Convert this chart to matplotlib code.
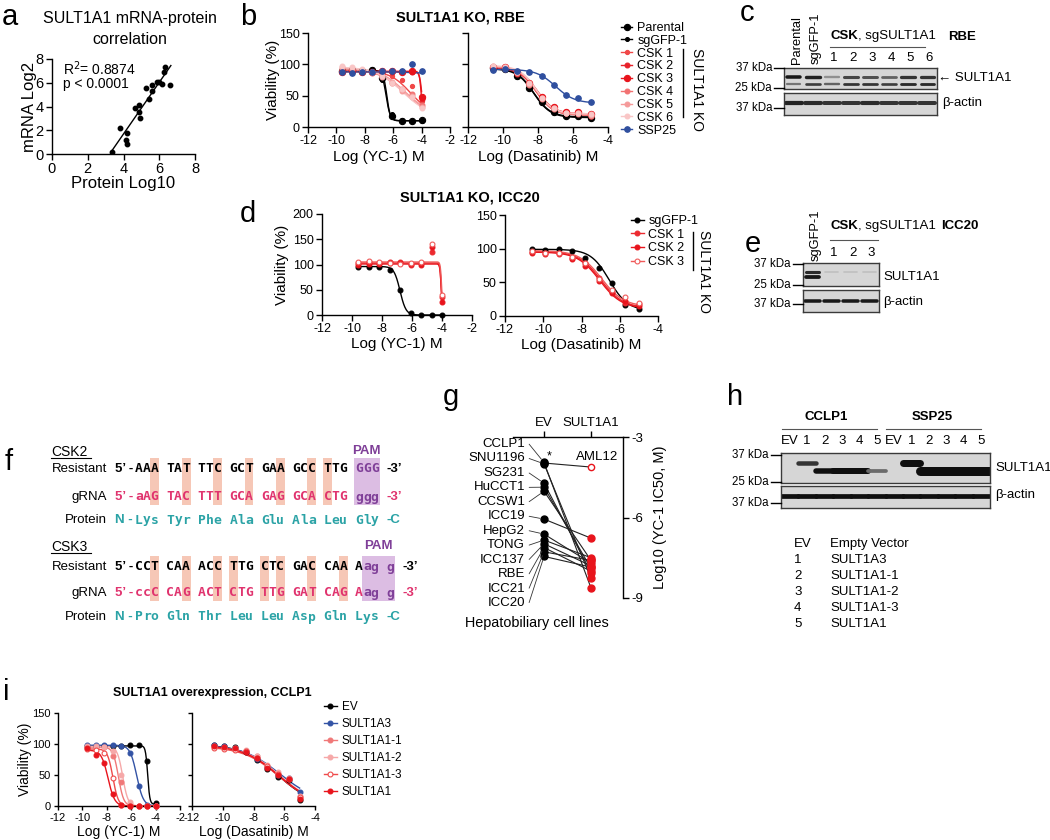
import numpy as np
import matplotlib.pyplot as plt
from matplotlib.lines import Line2D
from matplotlib.patches import Rectangle

plt.rcParams['font.family'] = ['Liberation Sans', 'DejaVu Sans']
plt.rcParams['axes.unicode_minus'] = False
plt.rcParams['axes.linewidth'] = 1.0

W, H = 1050, 840

# ---------------- data ----------------
# a: mRNA vs protein
a_protein = [3.36, 3.83, 4.13, 4.17, 4.22, 4.62, 4.88, 4.88, 4.92, 5.25, 5.42, 5.6, 5.62, 5.89, 6.0, 6.13, 6.26, 6.32, 6.6]
a_mrna = [0.17, 2.19, 1.2, 0.81, 1.8, 3.9, 4.1, 3.5, 3.06, 5.6, 4.63, 5.3, 5.8, 6.1, 6.1, 5.87, 6.88, 7.3, 5.8]

# dose series, log M
yc1_doses = [-9.6, -8.9, -8.2, -7.5, -6.8, -6.1, -5.4, -4.7, -4.0]
das_doses = [-10.6, -9.9, -9.2, -8.5, -7.8, -7.1, -6.4, -5.7, -5.0]

# b: SULT1A1 KO, RBE
b_names = ['Parental', 'sgGFP-1', 'CSK 1', 'CSK 2', 'CSK 3', 'CSK 4', 'CSK 5', 'CSK 6', 'SSP25']
b_yc1 = [[90, 91, 89, 91, 78, 18, 10, 10, 11],
         [88, 89, 90, 92, 75, 20, 11, 10, 10],
         [92, 90, 90, 88, 86, 82, 75, 65, 42],
         [90, 89, 88, 88, 89, 88, 88, 88, 45],
         [88, 89, 87, 88, 90, 89, 88, 90, 48],
         [93, 92, 90, 86, 82, 70, 60, 52, 35],
         [95, 93, 90, 87, 80, 72, 58, 50, 32],
         [97, 95, 92, 88, 82, 70, 60, 48, 30],
         [87, 86, 88, 88, 89, 90, 90, 101, 90]]
# fitted curve parameters: top, bottom, logIC50, hill
b_yc1_fit = [(90, 10, -6.45, 3.5), (90, 10, -6.5, 3.0), (90, 20, -4.8, 0.6),
             (88, 0, -3.95, 5), (89, 0, -4.0, 6), (92, 20, -5.3, 0.5),
             (94, 20, -5.2, 0.5), (96, 15, -5.3, 0.45), (88, 86, -5.0, 1)]
b_das = [[94, 93, 82, 63, 40, 24, 18, 17, 15],
         [93, 92, 80, 62, 39, 23, 17, 16, 14],
         [95, 94, 86, 69, 47, 31, 23, 23, 19],
         [94, 93, 85, 68, 46, 30, 22, 22, 18],
         [95, 95, 87, 70, 48, 32, 24, 24, 20],
         [96, 94, 86, 67, 45, 29, 22, 21, 18],
         [97, 95, 87, 68, 46, 30, 22, 22, 19],
         [98, 96, 88, 70, 47, 31, 23, 23, 20],
         [91, 92, 90, 88, 82, 67, 51, 46, 40]]
b_das_fit = [(94, 16, -8.25, 0.9), (93, 15, -8.25, 0.9), (95, 20, -8.1, 0.9),
             (94, 19, -8.1, 0.9), (95, 21, -8.05, 0.9), (96, 19, -8.1, 0.9),
             (97, 20, -8.1, 0.9), (98, 21, -8.1, 0.9), (92, 38, -7.0, 0.8)]

# d: SULT1A1 KO, ICC20
d_names = ['sgGFP-1', 'CSK 1', 'CSK 2', 'CSK 3']
d_yc1 = [[96, 96, 96, 89, 50, 3, 0, 0, 0],
         [102, 104, 103, 103, 104, 100, 102, 125, 35],
         [100, 101, 101, 104, 103, 101, 100, 135, 25],
         [105, 106, 104, 103, 101, 103, 104, 140, 40]]
d_yc1_fit = [(96, 0, -6.8, 2.2), (103, 0, -4.05, 10), (101, 0, -4.05, 10), (105, 0, -4.02, 10)]
d_das = [[99, 98, 99, 96, 86, 72, 49, 16, 11],
         [95, 93, 92, 86, 78, 57, 36, 20, 18],
         [94, 92, 93, 85, 75, 52, 34, 22, 15],
         [96, 94, 94, 88, 79, 55, 38, 28, 20]]
d_das_fit = [(99, 8, -6.55, 0.9), (96, 12, -7.0, 0.75), (95, 11, -7.05, 0.75), (97, 14, -6.95, 0.75)]

# i: SULT1A1 overexpression, CCLP1
i_names = ['EV', 'SULT1A3', 'SULT1A1-1', 'SULT1A1-2', 'SULT1A1-3', 'SULT1A1']
i_yc1 = [[97, 97, 97, 96, 97, 98, 98, 72, 5],
         [98, 98, 98, 98, 96, 85, 32, 1, 0],
         [95, 95, 95, 80, 38, 3, 0, 0, 0],
         [96, 96, 95, 88, 50, 6, 0, 0, 0],
         [92, 90, 85, 45, 2, 0, 0, 0, 0],
         [93, 82, 70, 20, 1, 0, 0, 0, 0]]
i_yc1_fit = [(97, 3, -4.65, 5), (98, 0, -5.55, 1.6), (95, 0, -7.05, 2.0),
             (96, 0, -6.7, 2.0), (92, 0, -7.5, 2.0), (90, 0, -7.9, 1.6)]
i_das = [[99, 97, 95, 87, 75, 60, 46, 42, 10],
         [98, 96, 93, 88, 76, 63, 50, 45, 22],
         [96, 95, 92, 89, 80, 65, 52, 44, 15],
         [95, 94, 93, 90, 81, 66, 55, 45, 16],
         [93, 92, 91, 88, 78, 64, 52, 43, 14],
         [97, 95, 93, 87, 77, 62, 50, 44, 12]]
i_das_fit = [(99, 0, -6.4, 0.38), (99, 5, -6.3, 0.36), (97, 0, -6.3, 0.37),
             (97, 0, -6.25, 0.38), (96, 0, -6.35, 0.37), (98, 0, -6.35, 0.37)]

# g: log10 YC-1 IC50, EV vs SULT1A1
g_cells = ['CCLP1', 'SNU1196', 'SG231', 'HuCCT1', 'CCSW1', 'ICC19', 'HepG2',
           'TONG', 'ICC137', 'RBE', 'ICC21', 'ICC20', 'AML12']
g_ev = [-3.95, -4.0, -4.72, -4.87, -5.02, -6.06, -6.62, -6.84, -6.98, -7.12, -7.28, -7.45, -3.97]
g_sult = [-8.63, -8.27, -8.05, -7.9, -7.6, -6.77, -7.7, -7.5, -7.8, -8.0, -7.6, -7.85, -4.12]

# western blots (band amount, 0..~2)
c_lanes = ['Parental', 'sgGFP-1', '1', '2', '3', '4', '5', '6']
c_sult_upper = [0.95, 0.9, 0.3, 0.7, 0.65, 0.55, 0.8, 0.8]
c_sult_lower = [0.45, 0.75, 0.55, 0.8, 0.8, 0.75, 0.85, 0.85]
c_actin = [0.9, 0.85, 0.8, 0.8, 0.85, 0.8, 0.8, 0.8]

e_lanes = ['sgGFP-1', '1', '2', '3']
e_sult_upper = [0.85, 0.03, 0.03, 0.03]
e_sult_lower = [0.95, 0.0, 0.0, 0.0]
e_actin = [0.95, 0.95, 0.95, 0.95]

h_lanes = ['EV', '1', '2', '3', '4', '5', 'EV', '1', '2', '3', '4', '5']
h_sult1a3 = [0, 0.8, 0, 0, 0, 0, 0, 1.4, 0, 0, 0, 0]
h_sult1a1 = [0, 0, 1.1, 1.2, 1.2, 0.5, 0, 0, 1.8, 1.8, 1.8, 1.8]
h_actin = [1.0] * 12
h_key = ['EV', '1', '2', '3', '4', '5']
h_constructs = ['Empty Vector', 'SULT1A3', 'SULT1A1-1', 'SULT1A1-2', 'SULT1A1-3', 'SULT1A1']

# f: sequences
csk2_res = 'AAA TAT TTC GCT GAA GCC TTG GGG'
csk2_grna = 'aAG TAC TTT GCA GAG GCA CTG ggg'
csk2_prot = 'Lys Tyr Phe Ala Glu Ala Leu Gly'
csk2_pam = (28, 31)
csk3_res = 'CCT CAA ACC TTG CTC GAC CAA Aag g'
csk3_grna = 'ccC CAG ACT CTG TTG GAT CAG Aag g'
csk3_prot = 'Pro Gln Thr Leu Leu Asp Gln Lys'
csk3_pam = (29, 33)

# ---------------- helpers ----------------
fig = plt.figure(figsize=(W / 100, H / 100), dpi=100)
ov = fig.add_axes([0, 0, 1, 1], zorder=10)
ov.set_xlim(0, W)
ov.set_ylim(H, 0)
ov.axis('off')


def add_ax(x0, y0, x1, y1):
    return fig.add_axes([x0 / W, 1 - y1 / H, (x1 - x0) / W, (y1 - y0) / H])


def T(x, y, s, **kw):
    kw.setdefault('ha', 'center')
    kw.setdefault('va', 'center')
    kw.setdefault('fontsize', 9.5)
    ov.text(x, y, s, **kw)


def L(xs, ys, **kw):
    kw.setdefault('color', 'k')
    kw.setdefault('lw', 0.8)
    ov.plot(xs, ys, **kw)


def logistic(x, top, bottom, logic50, hill):
    return bottom + (top - bottom) / (1 + 10 ** ((x - logic50) * hill))


def dr_axes(rect, xlim, xticks, ylim, yticks, ylabels=True, fs=9, tl=4):
    ax = add_ax(*rect)
    ax.spines[['top', 'right']].set_visible(False)
    ax.set_xlim(xlim)
    ax.set_ylim(ylim)
    ax.set_xticks(xticks)
    ax.set_yticks(yticks)
    if not ylabels:
        ax.set_yticklabels([])
    ax.tick_params(direction='out', length=tl, width=1, labelsize=fs, pad=2)
    return ax


def dr_plot(ax, doses, vals, fits, colors, sizes, faces):
    xs = np.linspace(doses[0], doses[-1], 200)
    for v, f, c, ms, fc in zip(vals, fits, colors, sizes, faces):
        ax.plot(xs, logistic(xs, *f), color=c, lw=1.0, zorder=2)
        ax.plot(doses, v, 'o', color=c, ms=ms, mfc=fc if fc else c, mew=0.8, zorder=3, clip_on=False)


def handles(colors, sizes, faces):
    return [Line2D([], [], color=c, lw=1, marker='o', ms=ms, mfc=fc if fc else c, mew=0.8)
            for c, ms, fc in zip(colors, sizes, faces)]


def blot(x0, y0, x1, y1, bands, half):
    ax = add_ax(x0, y0, x1, y1)
    n = len(bands[0][1])
    ax.set_xlim(0, n)
    ax.set_ylim(0, 1)
    ax.set_xticks([])
    ax.set_yticks([])
    ax.set_facecolor('#d6d6d6')
    for s in ax.spines.values():
        s.set_color('#3a3a3a')
    for ypos, vals, lw in bands:
        for k, v in enumerate(vals):
            if v <= 0:
                continue
            g = 0.78 - 0.72 * min(v, 1)
            ax.plot([k + 0.5 - half, k + 0.5 + half], [ypos, ypos], color=(g, g, g),
                    lw=lw * min(v, 2) if v > 1 else lw * (0.5 + 0.5 * v), solid_capstyle='round')
    return ax


def kda(x0, items):
    for y, s in items:
        T(x0 - 12, y, s, ha='right', fontsize=8.3)
        L([x0 - 10, x0], [y, y], lw=1)


# ---------------- a ----------------
T(2, 25, 'a', ha='left', va='baseline', fontsize=21)
T(130, 29, 'SULT1A1 mRNA-protein\ncorrelation', fontsize=11.5, linespacing=1.45)
ax = dr_axes((52, 59, 195, 154), (0, 8), [0, 2, 4, 6, 8], (0, 8), [0, 2, 4, 6, 8], fs=10.5)
ax.plot(a_protein, a_mrna, 'o', color='k', ms=3.2)
coef = np.polyfit(a_protein, a_mrna, 1)
xl = np.array([min(a_protein) - 0.05, max(a_protein) + 0.05])
ax.plot(xl, np.polyval(coef, xl), color='k', lw=1)
ax.text(0.6, 7.15, 'R$^2$= 0.8874', fontsize=10, va='center')
ax.text(0.6, 5.9, 'p < 0.0001', fontsize=10, va='center')
ax.set_xlabel('Protein Log10', fontsize=12)
ax.set_ylabel('mRNA Log2', fontsize=12)
ax.xaxis.set_label_coords(0.5, -0.23)
ax.yaxis.set_label_coords(-0.105, 0.5)

# ---------------- b ----------------
b_colors = ['#000000', '#000000', '#f04848', '#e8222a', '#e8141c', '#f27272', '#f59a9a', '#f9c6c6', '#2f4f9f']
b_sizes = [4.5, 2.8, 3, 3.5, 4.5, 3.5, 3.5, 3.5, 4]
b_faces = [None] * 9
T(240, 25, 'b', ha='left', va='baseline', fontsize=21)
T(460, 18, 'SULT1A1 KO, RBE', fontsize=10.5, fontweight='bold')
ax = dr_axes((308, 33, 450, 127), (-12, -2), range(-12, -1, 2), (0, 150), [0, 50, 100, 150])
dr_plot(ax, yc1_doses, b_yc1, b_yc1_fit, b_colors, b_sizes, b_faces)
ax.set_xlabel('Log (YC-1) M', fontsize=11)
ax.set_ylabel('Viability (%)', fontsize=11)
ax.xaxis.set_label_coords(0.5, -0.245)
ax.yaxis.set_label_coords(-0.2, 0.5)
ax = dr_axes((468, 33, 608, 127), (-12, -4), range(-12, -3, 2), (0, 150), [0, 50, 100, 150], ylabels=False)
dr_plot(ax, das_doses, b_das, b_das_fit, b_colors, b_sizes, b_faces)
ax.set_xlabel('Log (Dasatinib) M', fontsize=11)
ax.xaxis.set_label_coords(0.5, -0.245)
fig.legend(handles(b_colors, b_sizes, b_faces), b_names, loc='upper left',
           bbox_to_anchor=(621 / W, 1 - 22 / H), frameon=False, fontsize=9,
           handlelength=0.9, handletextpad=0.4, labelspacing=0.065, borderpad=0, borderaxespad=0)
L([683, 683], [49, 117], lw=1)
T(697, 90, 'SULT1A1 KO', rotation=270, fontsize=10)

# ---------------- c ----------------
T(740, 21, 'c', ha='left', va='baseline', fontsize=21)
blot(784, 68, 937, 89, [(0.55, c_sult_upper, 2.6), (0.22, c_sult_lower, 2.2)], 0.36)
blot(784, 93, 937, 115, [(0.55, c_actin, 3.2)], 0.42)
c_lx = [784 + (k + 0.5) * (937 - 784) / len(c_lanes) for k in range(len(c_lanes))]
for k, lab in enumerate(c_lanes):
    if k < 2:
        T(c_lx[k] + 3, 64, lab, rotation=90, va='bottom', fontsize=9.3)
    else:
        T(c_lx[k] + 2, 58, lab, fontsize=9.5)
T(858, 36, 'CSK', ha='right', fontweight='bold', fontsize=9.5)
T(858, 36, ', sgSULT1A1', ha='left', fontsize=9.5)
L([830, 925], [47, 47], lw=0.8, color='#555555')
T(962, 37, 'RBE', fontweight='bold', fontsize=9.5)
kda(784, [(68, '37 kDa'), (88, '25 kDa'), (108, '37 kDa')])
T(938, 78, '\u2190 SULT1A1', ha='left', fontsize=9.5)
T(942, 103, '\u03b2-actin', ha='left', fontsize=9.5)

# ---------------- d ----------------
d_colors = ['#000000', '#ec2a2f', '#e8141c', '#f05a5a']
d_sizes = [3.5, 3.5, 3.5, 3.5]
d_faces = [None, None, None, 'white']
T(240, 222, 'd', ha='left', va='baseline', fontsize=21)
T(470, 198, 'SULT1A1 KO, ICC20', fontsize=10.5, fontweight='bold')
ax = dr_axes((322, 214, 472, 315), (-12, -2), range(-12, -1, 2), (0, 200), [0, 50, 100, 150, 200])
dr_plot(ax, yc1_doses, d_yc1, d_yc1_fit, d_colors, d_sizes, d_faces)
ax.set_xlabel('Log (YC-1) M', fontsize=11)
ax.set_ylabel('Viability (%)', fontsize=11)
ax.xaxis.set_label_coords(0.5, -0.215)
ax.yaxis.set_label_coords(-0.22, 0.5)
ax = dr_axes((505, 215, 658, 316), (-12, -4), range(-12, -3, 2), (0, 150), [0, 50, 100, 150])
dr_plot(ax, das_doses, d_das, d_das_fit, d_colors, d_sizes, d_faces)
ax.set_xlabel('Log (Dasatinib) M', fontsize=11)
ax.xaxis.set_label_coords(0.5, -0.215)
fig.legend(handles(d_colors, d_sizes, d_faces), d_names, loc='upper left',
           bbox_to_anchor=(631 / W, 1 - 215 / H), frameon=False, fontsize=9,
           handlelength=1.0, handletextpad=0.4, labelspacing=0.13, borderpad=0, borderaxespad=0)
L([693, 693], [232, 270], lw=1)
T(704, 272, 'SULT1A1 KO', rotation=270, fontsize=10)

# ---------------- e ----------------
T(745, 252, 'e', ha='left', va='baseline', fontsize=21)
blot(803, 263, 879, 286, [(0.62, e_sult_upper, 2.4), (0.4, e_sult_lower, 2.8)], 0.33)
blot(803, 290, 879, 312, [(0.5, e_actin, 2.6)], 0.4)
e_lx = [803 + (k + 0.5) * (879 - 803) / len(e_lanes) for k in range(len(e_lanes))]
for k, lab in enumerate(e_lanes):
    if k == 0:
        T(e_lx[k] + 3, 261, lab, rotation=90, va='bottom', fontsize=9.3)
    else:
        T(e_lx[k] + 2, 253, lab, fontsize=9.5)
T(858, 226, 'CSK', ha='right', fontweight='bold', fontsize=9.5)
T(858, 226, ', sgSULT1A1', ha='left', fontsize=9.5)
L([830, 878], [240, 240], lw=0.8, color='#555555')
T(960, 226, 'ICC20', fontweight='bold', fontsize=9.5)
kda(803, [(264, '37 kDa'), (285, '25 kDa'), (304, '37 kDa')])
T(883, 277, 'SULT1A1', ha='left', fontsize=9.5)
T(883, 302, '\u03b2-actin', ha='left', fontsize=9.5)

# ---------------- f ----------------
T(5, 470, 'f', ha='left', va='baseline', fontsize=21)
f_x0, f_cw = 135, 7.86
res_col, grna_col, prot_col, pam_col = '#000000', '#e0336e', '#2ba3a6', '#7f3f98'


def seq_block(y_head, name, res, grna, prot, pam, y_rows):
    y_res, y_grna, y_prot = y_rows
    T(51, y_head, name, ha='left', fontsize=10)
    L([51, 91], [y_head + 6, y_head + 6], lw=0.8)
    top, bot = y_res - 11, y_grna + 8
    for j in range(len(res)):
        if res[j] != ' ' and res[j].upper() != grna[j].upper():
            ov.add_patch(Rectangle((f_x0 + f_cw * j - 0.5, top), f_cw + 1, bot - top,
                                   color='#f6c7b6', lw=0, zorder=1))
    ov.add_patch(Rectangle((f_x0 + f_cw * pam[0] - 1, top), f_cw * (pam[1] - pam[0]) + 2, bot - top,
                           color='#dcbde3', lw=0, zorder=1))
    T(f_x0 + f_cw * (pam[0] + pam[1]) / 2, y_head - 1, 'PAM', color=pam_col, fontweight='bold', fontsize=9.5)
    for y, lab, seq, col, left, right in [(y_res, 'Resistant', res, res_col, '5\u2019 -', '-3\u2019'),
                                           (y_grna, 'gRNA', grna, grna_col, '5\u2019 -', '-3\u2019'),
                                           (y_prot, 'Protein', prot, prot_col, 'N -', '-C')]:
        T(107, y, lab, ha='right', fontsize=9.5)
        T(133, y, left, ha='right', color=col, fontweight='bold', fontsize=9.5, zorder=3)
        for j, ch in enumerate(seq):
            if ch == ' ':
                continue
            c = pam_col if (seq is not prot and pam[0] <= j < pam[1]) else col
            T(f_x0 + f_cw * (j + 0.5), y, ch, color=c, family='DejaVu Sans Mono',
              fontweight='bold', fontsize=9.4, zorder=3)
        T(f_x0 + f_cw * len(seq) + 8, y, right, ha='left', color=col, fontweight='bold', fontsize=9.5, zorder=3)


seq_block(452, 'CSK2', csk2_res, csk2_grna, csk2_prot, csk2_pam, (469, 497, 520))
seq_block(547, 'CSK3', csk3_res, csk3_grna, csk3_prot, csk3_pam, (567, 593, 617))

# ---------------- g ----------------
T(443, 405, 'g', ha='left', va='baseline', fontsize=21)
ax = add_ax(513, 437, 623, 598)
ax.set_facecolor('none')
ax.spines[['left', 'bottom']].set_visible(False)
ax.set_xlim(0.34, 2.68)
ax.set_ylim(-9, -3)
ax.xaxis.tick_top()
ax.yaxis.tick_right()
ax.set_xticks([1, 2])
ax.set_xticklabels(['EV', 'SULT1A1'])
ax.set_yticks([-3, -6, -9])
ax.tick_params(direction='out', length=4, width=1, labelsize=9.5, pad=2)
ax.set_ylabel('Log10 (YC-1 IC50, M)', fontsize=10.5, labelpad=7)
ax.yaxis.set_label_position('right')
for k, name in enumerate(g_cells):
    ax.plot([1, 2], [g_ev[k], g_sult[k]], color='#222222', lw=0.8, zorder=2)
    ax.plot(1, g_ev[k], 'o', color='k', ms=5, zorder=3)
    if name == 'AML12':
        ax.plot(2, g_sult[k], 'o', color='#e8141c', mfc='white', ms=4.5, mew=1, zorder=3)
    else:
        ax.plot(2, g_sult[k], 'o', color='#e8141c', ms=5, zorder=3)
for k, name in enumerate(g_cells[:-1]):
    ly = (598 - (444 + 14.45 * k)) / 161
    ax.annotate(name, xy=(1, g_ev[k]), xytext=(0.109, ly), textcoords='axes fraction',
                ha='right', va='center', fontsize=9.5,
                arrowprops=dict(arrowstyle='-', lw=0.6, color='#333333', shrinkA=1, shrinkB=3,
                                relpos=(1, 0.5), connectionstyle='arc,angleA=0,armA=4,angleB=180,armB=0,rad=0'))
ax.text(1.1, -3.72, '*', fontsize=9, ha='center', va='center')
ax.text(2.13, -3.75, 'AML12', fontsize=9.5, ha='center', va='center')
T(537, 623, 'Hepatobiliary cell lines', fontsize=10.4)

# ---------------- h ----------------
T(727, 405, 'h', ha='left', va='baseline', fontsize=21)
blot(781, 453, 990, 483, [(0.67, h_sult1a3, 3.6), (0.4, h_sult1a1, 3.6)], 0.5)
blot(781, 486, 990, 508, [(0.55, h_actin, 3.4)], 0.5)
h_lx = [781 + (k + 0.5) * (990 - 781) / len(h_lanes) for k in range(len(h_lanes))]
for k, lab in enumerate(h_lanes):
    T(h_lx[k], 441, lab, fontsize=9.5)
T(826, 417, 'CCLP1', fontweight='bold', fontsize=9.5)
L([782, 877], [429, 429], lw=0.8, color='#555555')
T(932, 417, 'SSP25', fontweight='bold', fontsize=9.5)
L([886, 981], [429, 429], lw=0.8, color='#555555')
kda(781, [(455, '37 kDa'), (482, '25 kDa'), (503, '37 kDa')])
T(995, 468, 'SULT1A1', ha='left', fontsize=9.5)
T(995, 495, '\u03b2-actin', ha='left', fontsize=9.5)
for k, (key, val) in enumerate(zip(h_key, h_constructs)):
    T(794, 544 + 16 * k, key, ha='left', fontsize=9.5)
    T(830, 544 + 16 * k, val, ha='left', fontsize=9.5)

# ---------------- i ----------------
i_colors = ['#000000', '#3353a5', '#f07878', '#f6a8a8', '#ef4b4b', '#e8141c']
i_sizes = [3.5, 3.5, 3.5, 3.5, 3.5, 3.5]
i_faces = [None, None, None, None, 'white', None]
T(3, 700, 'i', ha='left', va='baseline', fontsize=21)
T(212, 693, 'SULT1A1 overexpression, CCLP1', fontsize=9, fontweight='bold')
ax = dr_axes((58, 713, 180, 806), (-12, -2), range(-12, -1, 2), (0, 150), [0, 50, 100, 150], fs=8, tl=3)
dr_plot(ax, yc1_doses, i_yc1, i_yc1_fit, i_colors, i_sizes, i_faces)
ax.set_xlabel('Log (YC-1) M', fontsize=10)
ax.set_ylabel('Viability (%)', fontsize=10)
ax.xaxis.set_label_coords(0.5, -0.2)
ax.yaxis.set_label_coords(-0.213, 0.5)
ax = dr_axes((192, 713, 315, 806), (-12, -4), range(-12, -3, 2), (0, 150), [0, 50, 100, 150],
             ylabels=False, fs=8, tl=3)
dr_plot(ax, das_doses, i_das, i_das_fit, i_colors, i_sizes, i_faces)
ax.set_xlabel('Log (Dasatinib) M', fontsize=10)
ax.xaxis.set_label_coords(0.5, -0.2)
fig.legend(handles(i_colors, i_sizes, i_faces), i_names, loc='upper left',
           bbox_to_anchor=(324 / W, 1 - 701 / H), frameon=False, fontsize=8.5,
           handlelength=1.1, handletextpad=0.4, labelspacing=0.42, borderpad=0, borderaxespad=0)

fig.savefig('out.png', dpi=100)
